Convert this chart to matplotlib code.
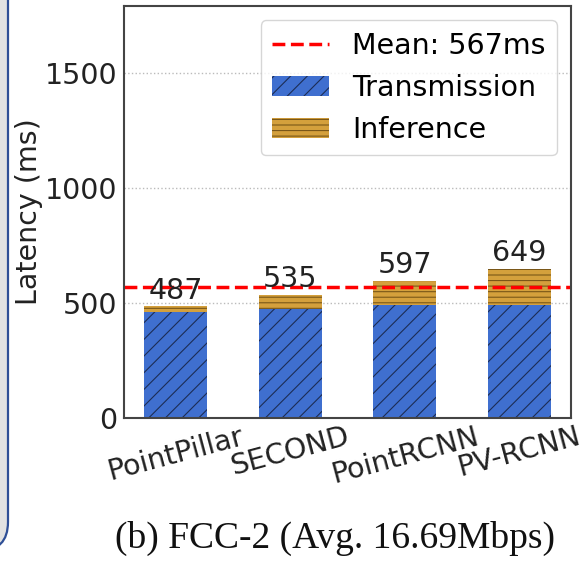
import matplotlib
matplotlib.use("Agg")
import matplotlib.pyplot as plt
from matplotlib.patches import FancyBboxPatch
import numpy as np

models = ["PointPillar", "SECOND", "PointRCNN", "PV-RCNN"]
transmission = [462, 472, 491, 491]
totals = [487, 535, 597, 649]
inference = [t - tr for t, tr in zip(totals, transmission)]
mean_latency = 567
caption = "(b) FCC-2 (Avg. 16.69Mbps)"

plt.rcParams["font.family"] = ["DejaVu Sans"]
plt.rcParams["hatch.linewidth"] = 0.8

W, H = 581, 565
FS = 20.5
fig = plt.figure(figsize=(W / 100, H / 100), dpi=100)
fig.patch.set_facecolor("white")

# left panel decoration
panel = FancyBboxPatch((-62 / W, 14 / H), 70 / W, 600 / H,
                       boxstyle="round,pad=0,rounding_size=0.05",
                       transform=fig.transFigure, facecolor="#e2e2e2",
                       edgecolor="#2f4f96", linewidth=1.6, mutation_aspect=W / H,
                       zorder=-5)
fig.add_artist(panel)

ax = fig.add_axes([124 / W, 1 - 418 / H, (571 - 124) / W, (418 - 6) / H])

x = np.arange(len(models))
width = 0.55
blue = "#3f6fcf"
gold = "#d4a03c"
b1 = ax.bar(x, transmission, width, color=blue, edgecolor="#1c2d55",
            linewidth=0, hatch="//", label="Transmission")
b2 = ax.bar(x, inference, width, bottom=transmission, color=gold,
            edgecolor="#7a5718", linewidth=0, hatch="---", label="Inference")
ln = ax.axhline(mean_latency, color="red", linestyle="--", linewidth=2.5,
                label=f"Mean: {mean_latency}ms")

for xi, t in zip(x, totals):
    ax.text(xi, t + 6, f"{t}", ha="center", va="bottom", fontsize=FS,
            color="#222222")

ax.set_ylim(0, 1790)
ax.set_yticks([0, 500, 1000, 1500])
ax.set_xticks(x)
ax.set_xticklabels(models, rotation=15, ha="center", fontsize=FS,
                   color="#222222")
ax.tick_params(axis="y", labelsize=FS, length=0, pad=5, labelcolor="#222222")
ax.tick_params(axis="x", length=0, pad=3)
ax.set_ylabel("Latency (ms)", fontsize=FS, color="#222222")
ax.yaxis.set_label_coords(-0.181, 0.5)
ax.grid(axis="y", linestyle=":", color="#bbbbbb", linewidth=1)
ax.set_axisbelow(True)
for s in ax.spines.values():
    s.set_color("#444444")
    s.set_linewidth(1.5)

leg = ax.legend(handles=[ln, b1, b2], loc="upper right", fontsize=FS,
                frameon=True, fancybox=True, handlelength=2.0)
leg.get_frame().set_edgecolor("#cccccc")

fig.text(335 / W, 1 - 548 / H, caption, ha="center", va="baseline",
         fontsize=27, family="Liberation Serif", color="#111111")

fig.savefig("out.png", dpi=100)
